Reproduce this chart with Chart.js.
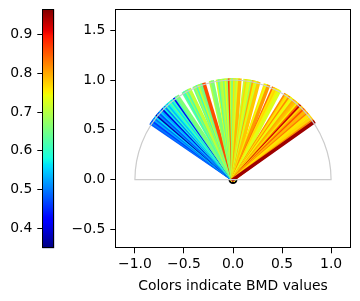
<!DOCTYPE html>
<html><head><meta charset="utf-8">
<script src="https://cdn.jsdelivr.net/npm/chart.js@4/dist/chart.umd.min.js"></script>
<style>
html,body{margin:0;padding:0;background:#fff;}
#wrap{position:relative;width:360px;height:301px;overflow:hidden;background:#fff;}
canvas{position:absolute;top:0;left:0;}
</style></head><body>
<div id="wrap">
<canvas id="main" width="360" height="301" style="width:360px;height:301px"></canvas>
<canvas id="cb" width="70" height="301" style="width:70px;height:301px"></canvas>
</div>
<script>
// ---- data ----
const lineAngles = [146,145,144,143,142,141,140,139,138,137,136,135,134,133,132,131,130,129,128,127,126,125,124,
  120,119,118,117,116,113,112,111,110,109,108,107,103,102,99,98,97,96,95,94,93,92,91,90,89,88,87,86,
  83,82,81,80,79,78,77,76,75,71,70,69,66,65,64,63,62,58,57,56,55,54,53,52,51,50,49,48,47,46,45,44,43,41,40,38,36,35];
const lineBmd = [0.48,0.50,0.46,0.53,0.49,0.56,0.37,0.51,0.47,0.55,0.52,0.40,0.57,0.50,0.60,0.54,0.58,0.63,0.56,0.61,0.43,0.62,0.66,
  0.64,0.60,0.68,0.62,0.71,0.65,0.69,0.61,0.72,0.67,0.64,0.86,0.70,0.66,0.73,0.63,0.69,0.71,0.66,0.74,0.68,0.87,0.72,0.65,0.76,0.70,0.73,0.79,
  0.71,0.77,0.72,0.74,0.69,0.80,0.75,0.72,0.78,0.76,0.74,0.81,0.84,0.76,0.77,0.75,0.73,0.82,0.77,0.76,0.82,0.75,0.74,0.80,0.79,0.78,0.75,0.84,0.93,0.77,0.80,0.86,0.79,0.83,0.76,0.77,0.82,0.95];
const lineLength = 1.0;
const arcRadius = 1.0;
const cbarMin = 0.348, cbarMax = 0.966;
const cbarTicks = [0.4,0.5,0.6,0.7,0.8,0.9];
const xTicks = [-1.0,-0.5,0.0,0.5,1.0];
const yTicks = [-0.5,0.0,0.5,1.0,1.5];
const xLimits = [-1.2, 1.2];
const yLimits = [-0.69, 1.71];
const xTitle = 'Colors indicate BMD values';

// ---- jet colormap ----
const jetR = [[0,0],[0.35,0],[0.66,1],[0.89,1],[1,0.5]];
const jetG = [[0,0],[0.125,0],[0.375,1],[0.64,1],[0.91,0],[1,0]];
const jetB = [[0,0.5],[0.11,1],[0.34,1],[0.65,0],[1,0]];
function seg(s,t){ for(let i=1;i<s.length;i++){ if(t<=s[i][0]){ const a=s[i-1],b=s[i]; return a[1]+(b[1]-a[1])*(t-a[0])/(b[0]-a[0]); } } return s[s.length-1][1]; }
function jet(t){ t=Math.max(0,Math.min(1,t)); return 'rgb('+Math.round(255*seg(jetR,t))+','+Math.round(255*seg(jetG,t))+','+Math.round(255*seg(jetB,t))+')'; }
const norm = v => (v-cbarMin)/(cbarMax-cbarMin);

const FONT = {family:"'DejaVu Sans', sans-serif", size:13.9};
const fmt = v => (v<0?'\u2212':'') + Math.abs(v).toFixed(1);
const noPad = s => { s.paddingTop=0; s.paddingBottom=0; s.paddingLeft=0; s.paddingRight=0; };

const framePlugin = { id:'frame', afterDraw(chart){ const a=chart.chartArea, c=chart.ctx; c.save(); c.strokeStyle='#000'; c.lineWidth=1; c.strokeRect(Math.round(a.left)+0.5, Math.round(a.top)+0.5, Math.round(a.right)-Math.round(a.left)-1, Math.round(a.bottom)-Math.round(a.top)-1); c.restore(); } };
const arcPlugin = { id:'arc', afterDatasetsDraw(chart){ const {ctx, scales:{x,y}} = chart; const cx=x.getPixelForValue(0), cy=y.getPixelForValue(0); const rx=x.getPixelForValue(arcRadius)-cx, ry=cy-y.getPixelForValue(arcRadius); ctx.save(); ctx.beginPath(); ctx.ellipse(cx,cy,rx,ry,0,Math.PI,2*Math.PI); ctx.closePath(); ctx.strokeStyle='#cccccc'; ctx.lineWidth=1.2; ctx.stroke(); ctx.restore(); } };

// ---- main chart ----
const datasets = [{ data:[{x:0,y:0}], showLine:false, pointRadius:4.5, pointBackgroundColor:'#000', pointBorderWidth:0, order:100000 }];
lineAngles.forEach((a,i)=>{ const r=a*Math.PI/180; datasets.push({ data:[{x:0,y:0},{x:lineLength*Math.cos(r), y:lineLength*Math.sin(r)}], showLine:true, borderColor:jet(norm(lineBmd[i])), borderWidth:3.5, borderCapStyle:'square', pointRadius:0, order:lineAngles.length-i }); });

new Chart(document.getElementById('main'), {
  type:'scatter',
  data:{datasets},
  options:{ responsive:false, animation:false, devicePixelRatio:1,
    layout:{padding:{left:0,right:9.3,top:9.3,bottom:0}},
    plugins:{legend:{display:false}, tooltip:{enabled:false}},
    scales:{
      x:{type:'linear', min:xLimits[0], max:xLimits[1], afterBuildTicks:s=>{s.ticks=xTicks.map(v=>({value:v}));},
        ticks:{callback:v=>fmt(v), font:FONT, color:'#000', padding:3, maxRotation:0, autoSkip:false},
        grid:{drawOnChartArea:false, tickLength:5, tickColor:'#000', tickWidth:1}, border:{display:false},
        title:{display:true, text:xTitle, font:FONT, color:'#000', padding:{top:1,bottom:6}},
        afterFit:s=>{s.height=52.7; noPad(s);} },
      y:{type:'linear', min:yLimits[0], max:yLimits[1], afterBuildTicks:s=>{s.ticks=yTicks.map(v=>({value:v}));},
        ticks:{callback:v=>fmt(v), font:FONT, color:'#000', padding:5, autoSkip:false},
        grid:{drawOnChartArea:false, tickLength:5, tickColor:'#000', tickWidth:1}, border:{display:false},
        afterFit:s=>{s.width=115.3; noPad(s);} }
    } },
  plugins:[arcPlugin, framePlugin]
});

// ---- colorbar ----
new Chart(document.getElementById('cb'), {
  type:'bar',
  data:{labels:[''], datasets:[{ data:[[cbarMin,cbarMax]], borderWidth:0, borderSkipped:false, barPercentage:1, categoryPercentage:1,
    backgroundColor:(c)=>{ const ch=c.chart; if(!ch.chartArea) return 'rgba(0,0,0,0)'; const y=ch.scales.y; const g=ch.ctx.createLinearGradient(0,y.getPixelForValue(cbarMin),0,y.getPixelForValue(cbarMax)); for(let k=0;k<=100;k++) g.addColorStop(k/100, jet(k/100)); return g; } }]},
  options:{ responsive:false, animation:false, devicePixelRatio:1,
    layout:{padding:{left:0,right:15.7,top:9.3,bottom:52.7}},
    plugins:{legend:{display:false}, tooltip:{enabled:false}},
    scales:{
      x:{display:false},
      y:{position:'left', min:cbarMin, max:cbarMax, afterBuildTicks:s=>{s.ticks=cbarTicks.map(v=>({value:v}));},
        ticks:{callback:v=>v.toFixed(1), font:FONT, color:'#000', padding:5, autoSkip:false},
        grid:{drawOnChartArea:false, tickLength:5, tickColor:'#000', tickWidth:1}, border:{display:false},
        afterFit:s=>{s.width=42.3; noPad(s);} }
    } },
  plugins:[framePlugin]
});
</script>
</body></html>
